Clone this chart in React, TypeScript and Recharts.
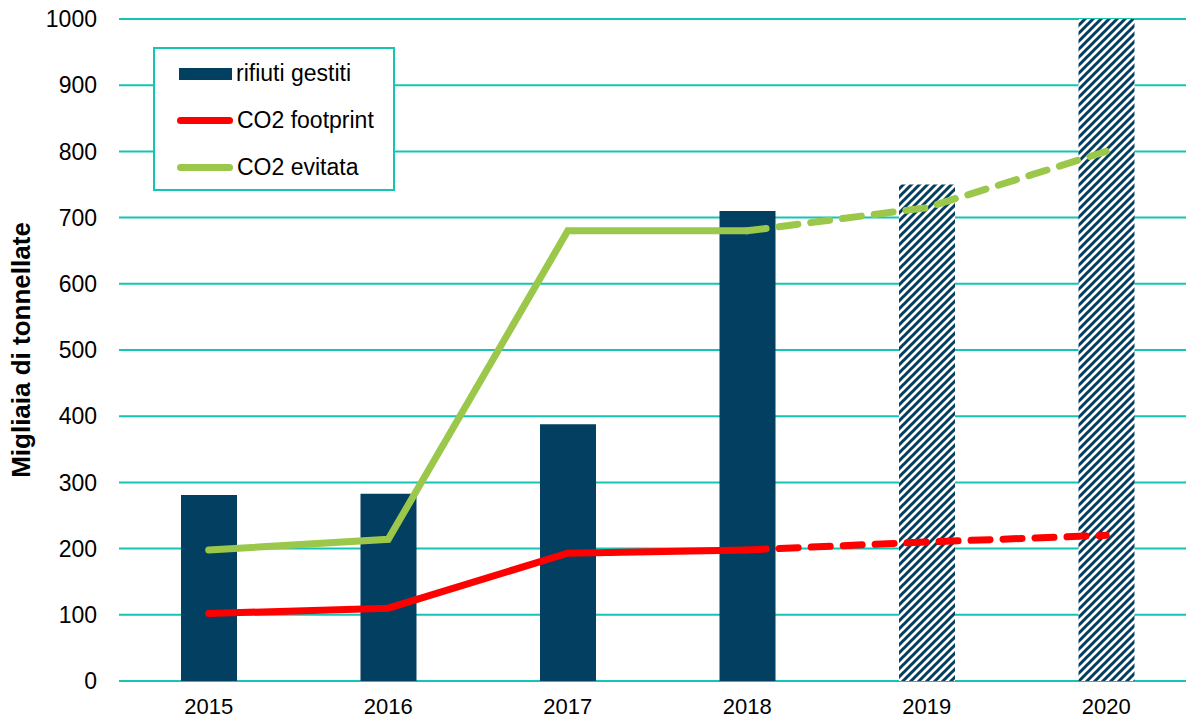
import { ComposedChart, Bar, Line, Cell, XAxis, YAxis, CartesianGrid, Legend } from 'recharts'

const years = ['2015', '2016', '2017', '2018', '2019', '2020']
const rifiutiGestiti = [281, 283, 388, 710, 750, 1000]
const co2Footprint = [102, 110, 193, 198, null, null]
const co2FootprintForecast = [null, null, null, 198, 210, 220]
const co2Evitata = [198, 214, 680, 680, null, null]
const co2EvitataForecast = [null, null, null, 680, 715, 800]
const yTicks = [0, 100, 200, 300, 400, 500, 600, 700, 800, 900, 1000]
const forecastYears = ['2019', '2020']

const NAVY = '#033f61'
const TEAL = '#14c4b4'
const RED = '#ff0000'
const GREEN = '#9bc84a'
const FONT = '"Liberation Sans", Arial, sans-serif'

const data = years.map((year, i) => ({
  year,
  rifiuti: rifiutiGestiti[i],
  footprint: co2Footprint[i],
  footprintF: co2FootprintForecast[i],
  evitata: co2Evitata[i],
  evitataF: co2EvitataForecast[i],
}))

function LegendBox() {
  const row = { display: 'flex', alignItems: 'center', height: 47 }
  const label = { fontSize: 23, color: '#000', marginLeft: 4, lineHeight: '23px' }
  return (
    <div
      style={{
        border: `2px solid ${TEAL}`,
        background: '#fff',
        width: 242,
        height: 144,
        boxSizing: 'border-box',
        padding: '1px 0 0 22px',
        fontFamily: FONT,
      }}
    >
      <div style={row}>
        <div style={{ width: 53, height: 12, background: NAVY, marginLeft: 2 }} />
        <span style={label}>rifiuti gestiti</span>
      </div>
      <div style={row}>
        <div style={{ width: 56, height: 7, borderRadius: 4, background: RED }} />
        <span style={label}>CO2 footprint</span>
      </div>
      <div style={row}>
        <div style={{ width: 56, height: 7, borderRadius: 4, background: GREEN }} />
        <span style={label}>CO2 evitata</span>
      </div>
    </div>
  )
}

export default function App() {
  return (
    <div style={{ position: 'absolute', left: 0, top: 0, width: 1186, height: 719, overflow: 'hidden', background: '#fff' }}>
      <ComposedChart
        width={1196}
        height={719}
        data={data}
        margin={{ top: 19, right: 0, bottom: 8, left: 0 }}
        style={{ fontFamily: FONT }}
      >
        <defs>
          <pattern id="hatch" patternUnits="userSpaceOnUse" width="8" height="8">
            <rect width="8" height="8" fill="#fff" />
            <path d="M-2,2 l4,-4 M0,8 l8,-8 M6,10 l4,-4" stroke={NAVY} strokeWidth="3" />
          </pattern>
        </defs>
        <CartesianGrid vertical={false} stroke={TEAL} strokeWidth={2} />
        <XAxis
          dataKey="year"
          height={30}
          axisLine={false}
          tickLine={false}
          tick={{ fontSize: 22, fill: '#000' }}
          tickMargin={11}
        />
        <YAxis
          width={119}
          domain={[0, 1000]}
          ticks={yTicks}
          axisLine={false}
          tickLine={false}
          tick={{ fontSize: 23, fill: '#000' }}
          tickMargin={16}
          label={{
            value: 'Migliaia di tonnellate',
            angle: -90,
            position: 'insideLeft',
            offset: 21,
            style: { fontSize: 26, fontWeight: 'bold', fill: '#000', textAnchor: 'middle' },
          }}
        />
        <Legend
          layout="vertical"
          verticalAlign="middle"
          align="center"
          wrapperStyle={{ left: 153, top: 47, width: 242 }}
          content={() => <LegendBox />}
        />
        <Bar dataKey="rifiuti" barSize={56} isAnimationActive={false} name="rifiuti gestiti">
          {data.map((d) => (
            <Cell key={d.year} fill={forecastYears.includes(d.year) ? 'url(#hatch)' : NAVY} />
          ))}
        </Bar>
        <Line
          dataKey="footprint"
          stroke={RED}
          strokeWidth={7}
          strokeLinecap="round"
          dot={false}
          isAnimationActive={false}
          name="CO2 footprint"
        />
        <Line
          dataKey="footprintF"
          stroke={RED}
          strokeWidth={7}
          strokeLinecap="round"
          strokeDasharray="19 13"
          dot={false}
          isAnimationActive={false}
          legendType="none"
        />
        <Line
          dataKey="evitata"
          stroke={GREEN}
          strokeWidth={7}
          strokeLinecap="round"
          dot={false}
          isAnimationActive={false}
          name="CO2 evitata"
        />
        <Line
          dataKey="evitataF"
          stroke={GREEN}
          strokeWidth={7}
          strokeLinecap="round"
          strokeDasharray="19 13"
          dot={false}
          isAnimationActive={false}
          legendType="none"
        />
      </ComposedChart>
    </div>
  )
}
